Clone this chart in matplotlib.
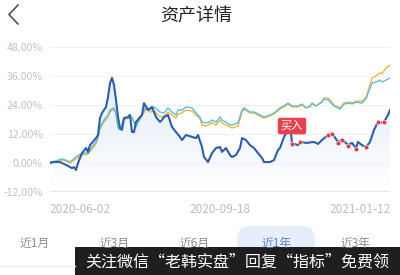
import numpy as np
import matplotlib
matplotlib.use('Agg')
import matplotlib.pyplot as plt
from matplotlib.patches import Rectangle, FancyBboxPatch
from matplotlib.colors import LinearSegmentedColormap

plt.rcParams['font.family'] = ['Noto Sans CJK SC', 'DejaVu Sans']

# datos (dia de cotizacion, rendimiento %)
blue_days = [0, 1, 5, 8, 11, 12, 13, 14, 16, 18, 19, 20, 23, 24, 25, 26, 28, 29, 30, 31,
             32, 33, 34, 35, 36, 37, 39, 40, 41, 42, 43, 46, 47, 49, 51, 53, 55, 56, 57, 59,
             61, 63, 65, 66, 68, 71, 73, 74, 76, 77, 79, 81, 83, 85, 86, 88, 90, 91, 93, 95,
             96, 98, 100, 102, 104, 106, 107, 110, 112, 114, 115, 117, 119, 120, 121, 124, 126, 128, 132, 134,
             136, 139, 141, 144, 145, 146, 149, 151, 153, 154, 156, 158, 160, 162, 164, 165, 167, 169, 170]
blue_vals = [0.0, 0.4, 0.4, -0.8, -2.1, -1.7, -2.9, 0.0, 4.1, 6.2, 4.6, 7.4, 10.3, 11.6, 18.6, 20.7, 23.2, 27.3, 33.1, 35.2,
             32.3, 26.1, 19.0, 14.5, 13.7, 18.6, 19.0, 19.9, 12.8, 12.8, 17.0, 19.9, 24.8, 21.9, 23.2, 19.0, 17.0, 17.8, 19.0, 19.9,
             14.9, 12.8, 10.8, 9.5, 11.6, 10.8, 10.3, 11.6, 6.6, 2.5, 0.4, 4.1, 6.2, 6.6, 4.6, 6.2, 3.3, 2.5, 3.3, 6.2,
             10.3, 9.5, 7.4, 6.2, 4.1, 2.1, 0.4, 0.4, 1.2, 5.4, 6.2, 10.8, 13.7, 16.5, 8.3, 7.4, 8.7, 8.3, 8.7, 7.9,
             9.5, 11.6, 12.4, 8.7, 9.1, 9.9, 7.4, 8.3, 6.2, 8.7, 7.4, 6.6, 8.7, 13.7, 17.0, 16.6, 17.0, 19.9, 21.9]

bench_days = [0, 1, 6, 8, 10, 13, 16, 19, 21, 23, 24, 25, 27, 29, 30, 32, 33, 34, 35, 37,
              41, 43, 45, 48, 50, 52, 55, 57, 59, 61, 63, 64, 66, 68, 71, 73, 75, 76, 78, 80,
              81, 83, 85, 86, 88, 90, 91, 94, 96, 97, 100, 102, 105, 107, 110, 112, 115, 117, 119, 121,
              124, 126, 128, 130, 131, 133, 136, 137, 139, 141, 142, 145, 147, 150, 151, 153, 156, 158, 160, 161,
              163, 165, 166, 168, 170]
teal_vals = [0.0, 0.4, 1.7, 1.2, 0.4, 2.5, 4.1, 4.1, 6.6, 8.7, 10.8, 14.9, 17.8, 19.9, 21.9, 22.8, 20.7, 14.5, 13.7, 18.6,
             19.0, 14.9, 18.6, 23.2, 21.9, 23.2, 21.1, 20.7, 22.8, 21.1, 19.9, 21.9, 21.9, 23.2, 22.8, 20.7, 19.0, 16.9, 16.6, 16.9,
             17.8, 16.9, 19.0, 17.8, 16.9, 15.7, 15.7, 16.6, 21.9, 22.8, 21.1, 21.1, 19.9, 19.0, 19.9, 20.7, 22.8, 23.6, 24.8, 23.6,
             23.6, 24.4, 22.8, 23.6, 24.8, 23.6, 25.2, 26.5, 26.1, 24.4, 23.6, 22.3, 24.4, 24.8, 24.4, 25.2, 24.8, 26.5, 31.0, 33.1,
             33.5, 34.3, 33.5, 34.3, 35.2]
orange_vals = [0.0, 0.0, 1.2, 0.8, 0.0, 1.7, 3.3, 3.7, 5.8, 7.9, 10.3, 14.1, 17.0, 19.0, 21.1, 22.3, 20.3, 14.9, 14.1, 18.2,
               18.6, 15.3, 18.2, 22.3, 21.1, 21.5, 19.0, 19.4, 21.1, 19.9, 18.6, 20.3, 20.7, 21.9, 21.5, 19.9, 18.2, 15.7, 15.3, 16.1,
               16.6, 15.7, 17.8, 16.6, 15.7, 14.9, 14.5, 15.3, 21.1, 22.3, 20.7, 20.7, 19.4, 18.6, 19.4, 20.3, 22.3, 23.2, 24.4, 23.2,
               23.2, 24.0, 22.8, 23.2, 24.4, 23.6, 25.6, 26.9, 26.9, 25.2, 24.0, 22.8, 24.8, 25.2, 24.8, 25.6, 25.6, 27.3, 32.3, 35.2,
               36.0, 37.3, 36.9, 39.3, 40.5]

dot_days = [121, 125, 139, 141, 144, 146, 149, 153, 158, 164, 167]
dot_vals = [8.0, 8.5, 11.6, 12.0, 8.3, 9.5, 7.0, 5.8, 6.6, 17.0, 17.0]

y_ticks = [-12, 0, 12, 24, 36, 48]
x_tick_days = [15, 85, 155]
x_tick_labels = ['2020-06-02', '2020-09-18', '2021-01-12']
tabs = ['近1月', '近3月', '近6月', '近1年', '近3年']
tab_x = [35, 115, 195, 277, 356]

fig = plt.figure(figsize=(4, 2.75), dpi=100)

# capa de fondo en pixeles para titulo, pestañas y banner
bg = fig.add_axes([0, 0, 1, 1])
bg.set_xlim(0, 400)
bg.set_ylim(275, 0)
bg.axis('off')

bg.plot([18, 9, 18], [5, 14.5, 24], color='#444444', lw=1.1)
bg.text(196, 16, '资产详情', ha='center', va='center', fontsize=13, color='#222222')

bg.add_patch(FancyBboxPatch((237, 226), 78, 42, boxstyle='round,pad=0,rounding_size=13',
                            fc='#e6eefb', ec='none'))
for x, t in zip(tab_x, tabs):
    c = '#5b7fb5' if t == '近1年' else '#8a8a8a'
    bg.text(x, 243, t, ha='center', va='center', fontsize=8.5, color=c)
bg.plot([0, 75], [266, 266], color='#eeeeee', lw=1)
bg.add_patch(Rectangle((75, 247), 325, 28, fc='#1f1f1f', ec='none'))
bg.text(237, 261.5, '关注微信“老韩实盘”回复“指标”免费领', ha='center', va='center',
        fontsize=11.5, color='white')

# grafico principal
ax = fig.add_axes([50 / 400, (275 - 192) / 275, 340 / 400, 145 / 275])
ax.set_facecolor('none')

poly = ax.fill_between(blue_days, blue_vals, -12, color='none', lw=0)
cmap = LinearSegmentedColormap.from_list('g', ['#ffffff', '#dbe7f8'])
grad = np.linspace(0, 1, 256).reshape(-1, 1)
im = ax.imshow(grad, extent=[0, 170, -12, 48], aspect='auto', cmap=cmap, origin='lower', zorder=1)
im.set_clip_path(poly.get_paths()[0], transform=ax.transData)

ax.plot(bench_days, orange_vals, color='#f0b445', lw=1, zorder=3)
ax.plot(bench_days, teal_vals, color='#5fbfd6', lw=1, zorder=3)
ax.plot(blue_days, blue_vals, color='#2c5ead', lw=1.5, zorder=4)
ax.plot(dot_days, dot_vals, 'o', color='#e03b4b', ms=3.4, mec='white', mew=0.4, zorder=5)
ax.text(121, 15.3, '买入', ha='center', va='center', color='white', fontsize=8, zorder=6,
        bbox=dict(boxstyle='round,pad=0.28,rounding_size=0.2', fc='#e5434f', ec='none'))

ax.set_xlim(0, 170)
ax.set_ylim(-12, 48)
ax.set_yticks(y_ticks)
ax.set_yticklabels(['%.2f%%' % v for v in y_ticks])
ax.set_xticks(x_tick_days)
ax.set_xticklabels(x_tick_labels)
ax.tick_params(axis='y', length=0, pad=5, labelsize=7.6, labelcolor='#c2c2c2')
ax.tick_params(axis='x', length=0, pad=8, labelsize=8.5, labelcolor='#bdbdbd')
ax.grid(axis='y', color='#f1f1f1', lw=0.8)
ax.axhline(-12, color='#e2e2e2', lw=1.8)
for s in ax.spines.values():
    s.set_visible(False)

fig.savefig('out.png', dpi=100)
